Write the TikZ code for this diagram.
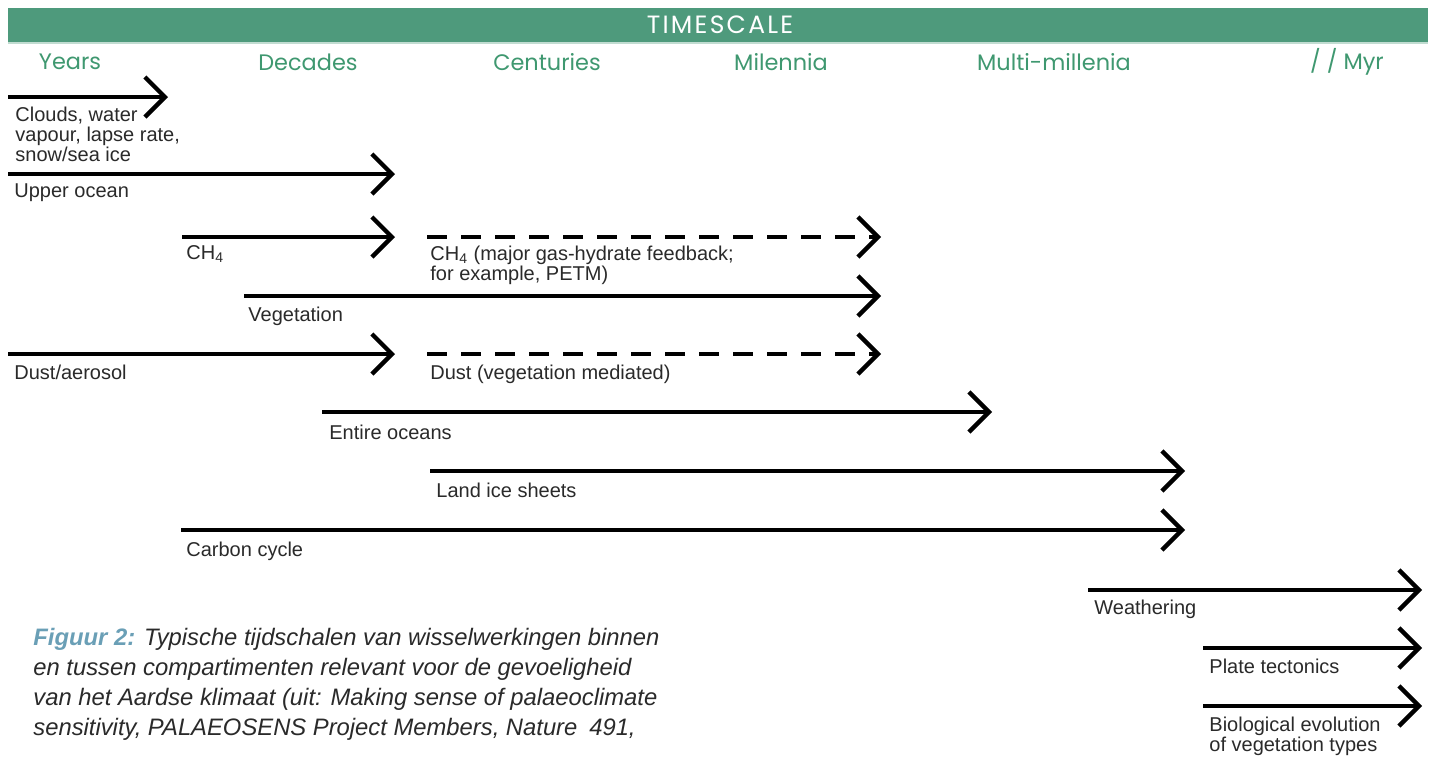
\documentclass[tikz,border=0pt]{standalone}
\usepackage{fontspec}
\setmainfont{Liberation Sans}
\newfontfamily\headfont{Poppins}
\usetikzlibrary{arrows.meta}
\definecolor{hdgreen}{HTML}{4E9A7C}
\definecolor{colgreen}{HTML}{3F9870}
\definecolor{capblue}{HTML}{6A9FB6}
\definecolor{labgray}{HTML}{2A2A2A}
\begin{document}
\begin{tikzpicture}[x=0.5pt,y=-0.5pt,
 arr/.style={line width=2.2pt, -{Straight Barb[length=10pt,width=20pt]}},
 darr/.style={arr, dash pattern=on 10pt off 7pt},
 lab/.style={anchor=base west, inner sep=0pt, font=\fontsize{10}{9.5}\selectfont, text=labgray},
 col/.style={inner sep=0pt, font=\headfont\fontsize{11.2}{13}\selectfont, text=colgreen},
 captxt/.style={anchor=base west, inner sep=0pt, font=\fontsize{11.9}{15}\selectfont\itshape, text=labgray}
]
\useasboundingbox (0,0) rectangle (1435,756);
\fill[white] (0,0) rectangle (1435,756);
% header
\fill[hdgreen] (8,8) rectangle (1428,42);
\fill[hdgreen!35] (8,42) rectangle (1428,44);
\node[inner sep=0pt, text=white, font=\headfont\addfontfeatures{LetterSpace=9}\fontsize{12.5}{14}\selectfont] (title) at (720,25) {TIMESCALE};
\node[col] (years) at (70,62) {Years};
\node[col] (decades) at (308,62) {Decades};
\node[col] (centuries) at (547,62) {Centuries};
\node[col] (milennia) at (781,62) {Milennia};
\node[col] (multi) at (1054,62) {Multi-millenia};
\node[col] (myr) at (1347,62) {/ / Myr};
% arrow end points
\coordinate (s1) at (8,97);    \coordinate (e1) at (168,97);
\coordinate (s2) at (8,174);   \coordinate (e2) at (395,174);
\coordinate (s3) at (182,237); \coordinate (e3) at (395,237);
\coordinate (s4) at (427,237); \coordinate (e4) at (881,237);
\coordinate (s5) at (244,296); \coordinate (e5) at (881,296);
\coordinate (s6) at (8,354);   \coordinate (e6) at (395,354);
\coordinate (s7) at (427,354); \coordinate (e7) at (881,354);
\coordinate (s8) at (322,412); \coordinate (e8) at (992,412);
\coordinate (s9) at (430,471); \coordinate (e9) at (1185,471);
\coordinate (s10) at (181,530); \coordinate (e10) at (1185,530);
\coordinate (s11) at (1088,590); \coordinate (e11) at (1422,590);
\coordinate (s12) at (1203,648); \coordinate (e12) at (1422,648);
\coordinate (s13) at (1203,706); \coordinate (e13) at (1422,706);
\draw[arr] (s1) -- (e1);
\draw[arr] (s2) -- (e2);
\draw[arr] (s3) -- (e3);
\draw[darr] (s4) -- (e4);
\draw[arr] (s5) -- (e5);
\draw[arr] (s6) -- (e6);
\draw[darr] (s7) -- (e7);
\draw[arr] (s8) -- (e8);
\draw[arr] (s9) -- (e9);
\draw[arr] (s10) -- (e10);
\draw[arr] (s11) -- (e11);
\draw[arr] (s12) -- (e12);
\draw[arr] (s13) -- (e13);
% labels
\node[lab] (l1) at (15,121) {\begin{tabular}[t]{@{}l@{}}Clouds, water\\ vapour, lapse rate,\\ snow/sea ice\end{tabular}};
\node[lab] (l2) at (14,197) {Upper ocean};
\node[lab] (l3) at (186,259) {CH\textsubscript{4}};
\node[lab] (l4) at (430,260) {\begin{tabular}[t]{@{}l@{}}CH\textsubscript{4} (major gas-hydrate feedback;\\ for example, PETM)\end{tabular}};
\node[lab] (l5) at (248,321) {Vegetation};
\node[lab] (l6) at (14,379) {Dust/aerosol};
\node[lab] (l7) at (430,379) {Dust (vegetation mediated)};
\node[lab] (l8) at (329,439) {Entire oceans};
\node[lab] (l9) at (436,497) {Land ice sheets};
\node[lab] (l10) at (186,556) {Carbon cycle};
\node[lab] (l11) at (1094,614) {Weathering};
\node[lab] (l12) at (1209,673) {Plate tectonics};
\node[lab] (l13) at (1209,731) {\begin{tabular}[t]{@{}l@{}}Biological evolution\\ of vegetation types\end{tabular}};
% caption
\node[captxt] (caption) at (33,645) {\begin{tabular}[t]{@{}l@{}}\textcolor{capblue}{\bfseries Figuur 2:} Typische tijdschalen van wisselwerkingen binnen\\ en tussen compartimenten relevant voor de gevoeligheid\\ van het Aardse klimaat (uit: Making sense of palaeoclimate\\ sensitivity, PALAEOSENS Project Members, Nature\enspace 491,\end{tabular}};
\end{tikzpicture}
\end{document}
